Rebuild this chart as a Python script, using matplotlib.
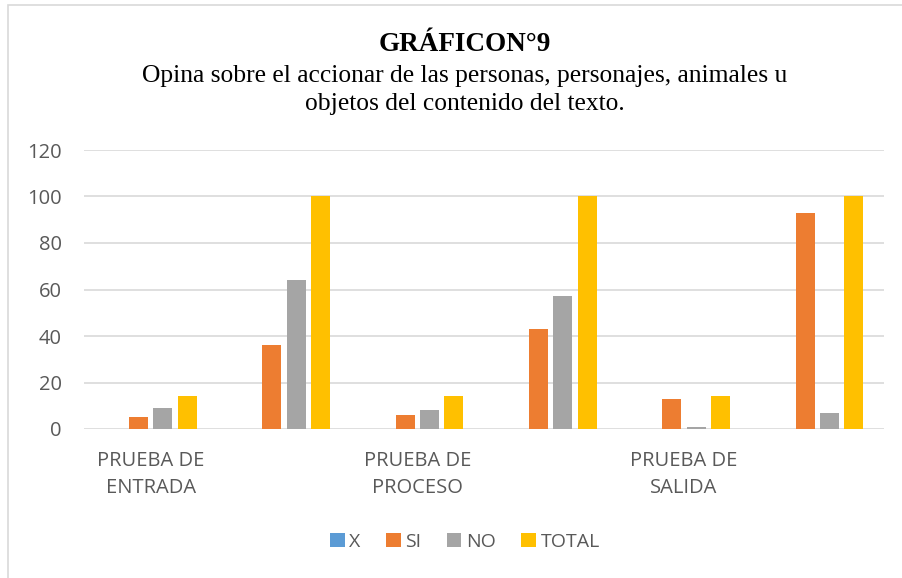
import numpy as np
import matplotlib.pyplot as plt
from matplotlib.patches import Rectangle

# Datos del gráfico N°9
categorias = ['PRUEBA DE\nENTRADA', '', 'PRUEBA DE\nPROCESO', '', 'PRUEBA DE\nSALIDA', '']
serie_x = [0, 0, 0, 0, 0, 0]
serie_si = [5, 36, 6, 43, 13, 93]
serie_no = [9, 64, 8, 57, 1, 7]
serie_total = [14, 100, 14, 100, 14, 100]

series = [('X', serie_x, '#5B9BD5'),
          ('SI', serie_si, '#ED7D31'),
          ('NO', serie_no, '#A5A5A5'),
          ('TOTAL', serie_total, '#FFC000')]

fig = plt.figure(figsize=(9.02, 5.78), dpi=100)
ax = fig.add_axes([84 / 902, 1 - 429 / 578, 800 / 902, 279 / 578])

x = np.arange(len(categorias))
paso = 0.182
ancho = 0.143
for i, (nombre, valores, color) in enumerate(series):
    ax.bar(x + (i - 1.5) * paso, valores, width=ancho, color=color, label=nombre, zorder=3)

ax.set_xlim(-0.5, len(categorias) - 0.5)
ax.set_ylim(0, 120)
ax.set_yticks(range(0, 121, 20))
ax.set_xticks(x)
ax.set_xticklabels(categorias, fontsize=14.5, color='#595959', family='Open Sans', linespacing=1.45)
ax.tick_params(axis='both', length=0)
ax.tick_params(axis='x', pad=16)
ax.tick_params(axis='y', pad=16)
for lbl in ax.get_yticklabels():
    lbl.set_fontsize(14.5)
    lbl.set_color('#595959')
    lbl.set_family('Open Sans')
ax.grid(axis='y', color='#D9D9D9', linewidth=1.2, zorder=0)
for s in ax.spines.values():
    s.set_visible(False)

# Títulos
fig.text(465 / 902, 1 - 51 / 578, 'GRÁFICON°9', ha='center', va='baseline',
         fontsize=19.5, fontweight='bold', family='Liberation Serif')
fig.text(465 / 902, 1 - 82 / 578, 'Opina sobre el accionar de las personas, personajes, animales u',
         ha='center', va='baseline', fontsize=18.4, family='Liberation Serif')
fig.text(465 / 902, 1 - 110 / 578, 'objetos del contenido del texto.',
         ha='center', va='baseline', fontsize=18.4, family='Liberation Serif')

# Leyenda
fig.legend(loc='center', bbox_to_anchor=(465 / 902, 1 - 542 / 578), ncol=4, frameon=False,
           handlelength=0.75, handleheight=0.75, handletextpad=0.25, columnspacing=1.3,
           prop={'family': 'Open Sans', 'size': 14}, labelcolor='#595959')

# Borde del gráfico
fig.patches.append(Rectangle((8 / 902, -0.1), 1.2, 1 - 5 / 578 + 0.1, transform=fig.transFigure,
                             fill=False, edgecolor='#D9D9D9', linewidth=1.2))

fig.savefig('out.png', dpi=100)
